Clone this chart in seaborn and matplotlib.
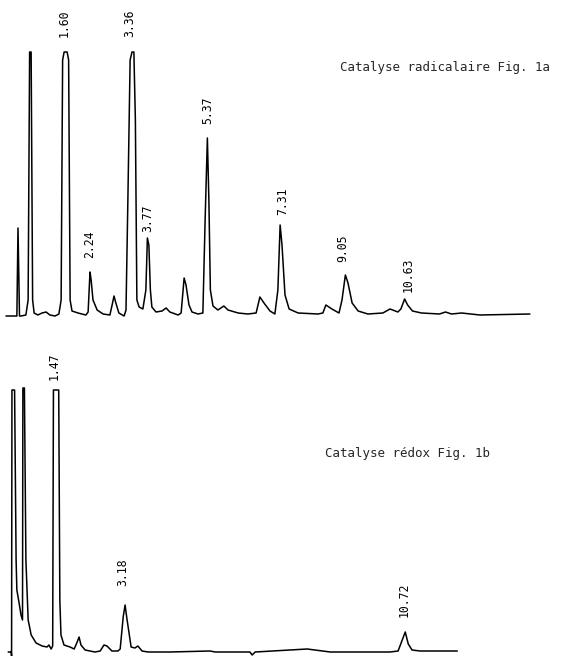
import numpy as np
import matplotlib
matplotlib.use("Agg")
from matplotlib import pyplot as plt
import seaborn as sns

# trace Fig. 1a (radical catalysis): time in min, detector signal (arb. units)
t_top = [0.00, 0.27, 0.29, 0.32, 0.36, 0.40, 0.53, 0.59, 0.63, 0.67,
         0.71, 0.75, 0.85, 0.96, 1.07, 1.17, 1.31, 1.41, 1.47, 1.51,
         1.55, 1.63, 1.67, 1.71, 1.76, 1.92, 2.13, 2.19, 2.24, 2.27,
         2.32, 2.43, 2.59, 2.77, 2.83, 2.88, 2.93, 3.01, 3.15, 3.20,
         3.25, 3.31, 3.36, 3.41, 3.45, 3.49, 3.55, 3.65, 3.73, 3.77,
         3.81, 3.85, 3.89, 4.00, 4.16, 4.27, 4.37, 4.59, 4.67, 4.75,
         4.80, 4.88, 4.96, 5.12, 5.25, 5.31, 5.37, 5.41, 5.45, 5.52,
         5.65, 5.81, 5.92, 6.19, 6.45, 6.67, 6.77, 6.88, 7.04, 7.17,
         7.25, 7.31, 7.36, 7.44, 7.55, 7.79, 8.32, 8.45, 8.53, 8.69,
         8.88, 8.96, 9.05, 9.12, 9.23, 9.39, 9.65, 10.05, 10.24, 10.45,
         10.53, 10.63, 10.71, 10.84, 11.08, 11.56, 11.72, 11.88, 12.15, 12.64,
         13.97]
s_top = [0, 0, 0, 88, 0, 0, 1, 16, 264, 264,
         16, 3, 1, 3, 4, 1, 0, 2, 16, 256,
         264, 264, 256, 16, 5, 3, 1, 4, 44, 36,
         16, 6, 2, 1, 11, 20, 13, 3, 0, 6,
         116, 256, 264, 264, 196, 16, 9, 7, 26, 78,
         71, 26, 9, 4, 5, 8, 4, 1, 3, 38,
         31, 11, 4, 2, 3, 96, 178, 116, 26, 10,
         6, 10, 6, 3, 2, 3, 19, 13, 5, 2,
         26, 91, 71, 21, 7, 3, 2, 3, 11, 7,
         3, 16, 41, 33, 13, 5, 2, 3, 7, 4,
         7, 17, 11, 5, 3, 2, 4, 2, 3, 1,
         2]
labels_top = ["1.60", "2.24", "3.36", "3.77", "5.37", "7.31", "9.05", "10.63"]

# trace Fig. 1b (redox catalysis)
t_bot = [0.19, 0.27, 0.28, 0.29, 0.36, 0.40, 0.42, 0.48, 0.53, 0.57,
         0.58, 0.62, 0.66, 0.72, 0.80, 0.93, 1.09, 1.22, 1.27, 1.33,
         1.37, 1.39, 1.53, 1.56, 1.59, 1.67, 1.75, 1.83, 1.94, 2.02,
         2.07, 2.12, 2.23, 2.49, 2.63, 2.73, 2.81, 2.94, 3.10, 3.16,
         3.24, 3.29, 3.34, 3.45, 3.55, 3.63, 3.74, 3.90, 4.48, 5.54,
         5.68, 6.60, 6.66, 6.74, 8.12, 8.73, 9.52, 10.32, 10.53, 10.64,
         10.72, 10.80, 10.90, 11.11, 11.64, 12.10]
s_bot = [0, 0, -4, 262, 262, 92, 62, 49, 37, 32,
         264, 264, 92, 32, 17, 9, 6, 5, 7, 3,
         6, 262, 262, 52, 17, 7, 6, 5, 3, 10,
         15, 7, 2, 0, 1, 7, 6, 1, 1, 3,
         35, 47, 33, 5, 4, 6, 1, 0, 0, 1,
         0, 0, -3, 0, 3, 0, 0, 0, 1, 12,
         20, 8, 2, 1, 1, 1]
labels_bot = ["1.47", "3.18", "10.72"]

title_top = "Catalyse radicalaire Fig. 1a"
title_bot = "Catalyse rédox Fig. 1b"

# label offsets in points (dx, gap above apex)
offs_top = [(-1.5, 11), (0, 10), (-2, 11), (0, 4), (0, 10), (2, 7), (-2, 9), (2.5, 5)]
offs_bot = [(-2, 7), (1.5, 14), (-0.5, 11)]

sns.set_style("white")
plt.rcParams["font.family"] = ["DejaVu Sans Mono", "DejaVu Sans"]

fig = plt.figure(figsize=(5.64, 6.56), dpi=100)
H = 656.0
ax1 = fig.add_axes([0, 1 - 330 / H, 1, 330 / H])
ax2 = fig.add_axes([0, 0, 1, 326 / H])


def draw_trace(ax, t, s, labels, offs, xlim, ylim):
    t = np.array(t)
    s = np.array(s)
    sns.lineplot(x=t, y=s, ax=ax, color="black", linewidth=1.1,
                 sort=False, estimator=None)
    for lab, (dx, dy) in zip(labels, offs):
        rt = float(lab)
        near = np.abs(t - rt) < 0.12
        top = s[near].max()
        ax.annotate(lab, xy=(rt, top), xytext=(dx, dy),
                    textcoords="offset points", rotation=90,
                    ha="center", va="bottom", fontsize=8.3, color="black")
    ax.set_xlim(*xlim)
    ax.set_ylim(*ylim)
    ax.set_axis_off()


draw_trace(ax1, t_top, s_top, labels_top, offs_top, (-0.16, 14.88), (-14, 316))
draw_trace(ax2, t_bot, s_bot, labels_bot, offs_bot, (-0.027, 14.93), (-4, 322))

fig.text(340 / 564, 1 - 67 / H, title_top, ha="left", va="center", fontsize=9)
fig.text(325 / 564, 1 - 453 / H, title_bot, ha="left", va="center", fontsize=9)

fig.savefig("out.png", dpi=100, facecolor="white")
